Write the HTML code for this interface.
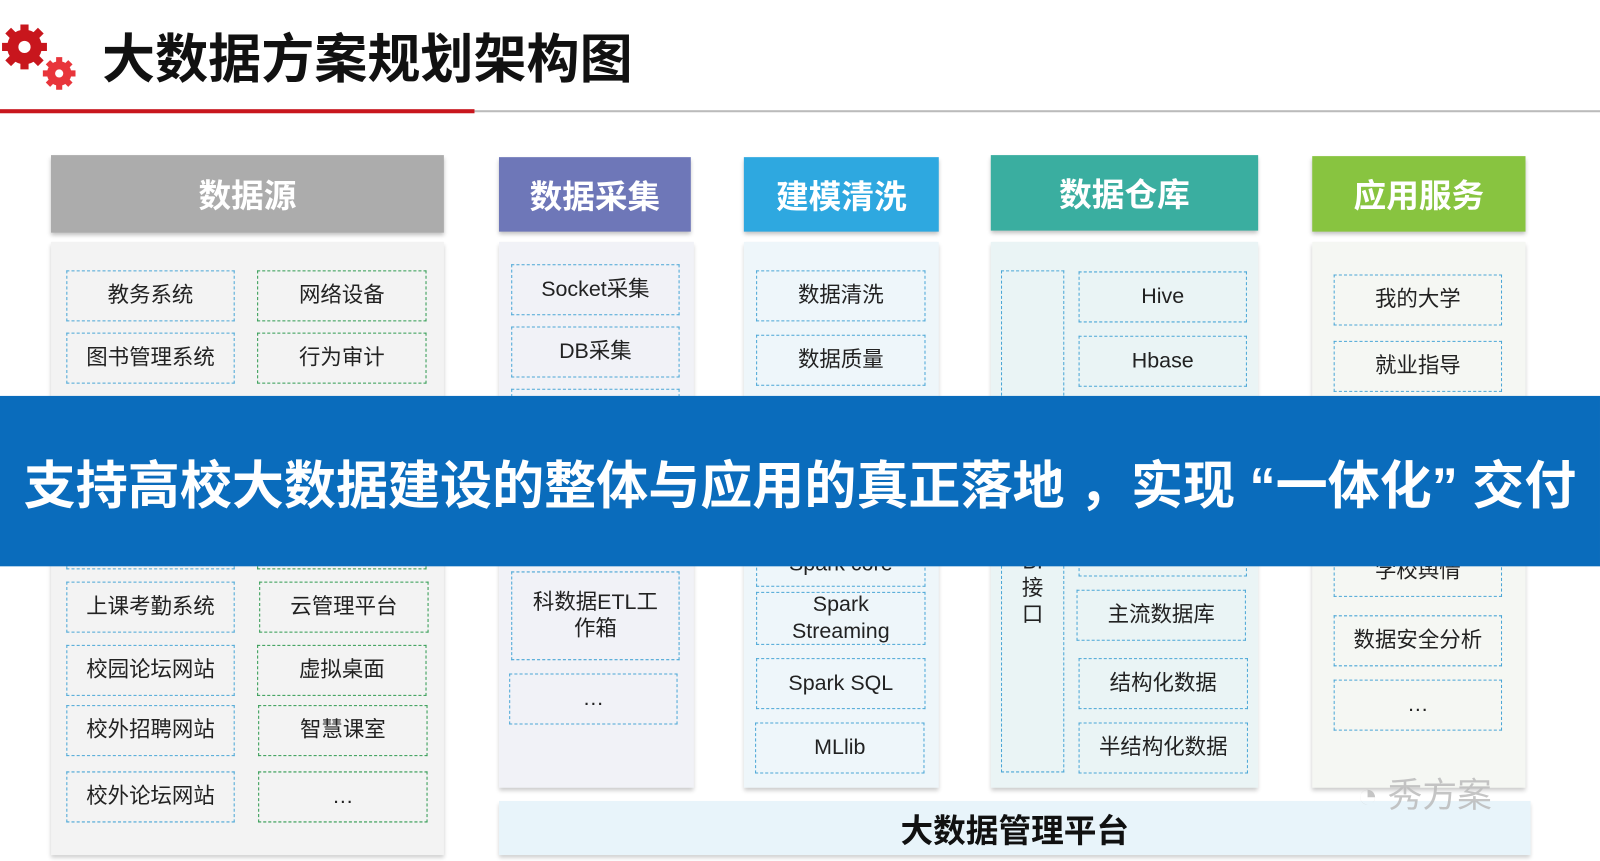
<!DOCTYPE html>
<html><head><meta charset="utf-8"><style>
*{margin:0;padding:0;box-sizing:border-box}
body{width:1600px;height:861px;background:#fff;position:relative;overflow:hidden;font-family:"Liberation Sans","Noto Sans CJK SC",sans-serif}
#w{position:absolute;left:0;top:0;width:1568px;height:844px;transform:scale(1.0204);transform-origin:0 0}
.a{position:absolute}
.h{position:absolute;color:#fff;font-weight:bold;font-size:32px;display:flex;align-items:center;justify-content:center;box-shadow:0 3px 4px rgba(0,0,0,.25)}
.bd{position:absolute;box-shadow:0 3px 4px rgba(0,0,0,.2)}
.b{position:absolute;border:1.5px dashed #4aa6d6;display:flex;align-items:center;justify-content:center;text-align:center;font-size:21px;color:#222;line-height:26px}
.g{border-color:#2f9a50}
</style></head><body><div id="w">
<svg class="a" style="left:0;top:22px" width="80" height="70" viewBox="0 0 80 70">
<g fill="#c8161d"><circle cx="24" cy="24" r="17"/>
<g stroke="#c8161d" stroke-width="8"><line x1="24" y1="2" x2="24" y2="46"/><line x1="2" y1="24" x2="46" y2="24"/><line x1="8" y1="8" x2="40" y2="40"/><line x1="40" y1="8" x2="8" y2="40"/></g>
<circle cx="24" cy="24" r="6" fill="#fff"/></g>
<g fill="#e8353b"><circle cx="58" cy="50" r="12"/>
<g stroke="#e8353b" stroke-width="6"><line x1="58" y1="34" x2="58" y2="66"/><line x1="42" y1="50" x2="74" y2="50"/><line x1="47" y1="39" x2="69" y2="61"/><line x1="69" y1="39" x2="47" y2="61"/></g>
<circle cx="58" cy="50" r="4" fill="#fff"/></g></svg>
<div class="a" style="left:100px;top:26px;font-size:52px;font-weight:bold;color:#111;line-height:66px">大数据方案规划架构图</div>
<div class="a" style="left:0;top:107px;width:465px;height:4px;background:#c8161d"></div>
<div class="a" style="left:465px;top:108px;width:1135px;height:2px;background:#bbb"></div>

<div class="h" style="left:50px;top:152px;width:385px;height:76px;background:#acacac">数据源</div>
<div class="h" style="left:489px;top:154px;width:188px;height:73px;background:#6e77b8">数据采集</div>
<div class="h" style="left:729px;top:154px;width:191px;height:73px;background:#2ea8e0">建模清洗</div>
<div class="h" style="left:971px;top:152px;width:262px;height:74px;background:#3aaea0">数据仓库</div>
<div class="h" style="left:1286px;top:153px;width:209px;height:74px;background:#88c440">应用服务</div>

<div class="bd" style="left:50px;top:237px;width:385px;height:601px;background:#f3f3f3"></div>
<div class="bd" style="left:489px;top:237px;width:191px;height:535px;background:#f1f2f7"></div>
<div class="bd" style="left:729px;top:237px;width:191px;height:535px;background:#eef6fa"></div>
<div class="bd" style="left:971px;top:237px;width:262px;height:535px;background:#eaf4f5"></div>
<div class="bd" style="left:1286px;top:237px;width:209px;height:535px;background:#f5f7f3"></div>
<div class="bd" style="left:489px;top:785px;width:1011px;height:53px;background:#e8f4fa;display:flex;align-items:center;justify-content:center;font-size:32px;font-weight:bold;color:#111;box-shadow:0 3px 4px rgba(0,0,0,.2)">大数据管理平台</div>

<div class="b" style="left:65px;top:265px;width:165px;height:50px">教务系统</div>
<div class="b" style="left:65px;top:326px;width:165px;height:50px">图书管理系统</div>
<div class="b" style="left:65px;top:570px;width:165px;height:50px">上课考勤系统</div>
<div class="b" style="left:65px;top:632px;width:165px;height:50px">校园论坛网站</div>
<div class="b" style="left:65px;top:691px;width:165px;height:50px">校外招聘网站</div>
<div class="b" style="left:65px;top:756px;width:165px;height:50px">校外论坛网站</div>
<div class="b g" style="left:252px;top:265px;width:166px;height:50px">网络设备</div>
<div class="b g" style="left:252px;top:326px;width:166px;height:50px">行为审计</div>
<div class="b g" style="left:254px;top:570px;width:166px;height:50px">云管理平台</div>
<div class="b g" style="left:252px;top:632px;width:166px;height:50px">虚拟桌面</div>
<div class="b g" style="left:253px;top:691px;width:166px;height:50px">智慧课室</div>
<div class="b g" style="left:253px;top:756px;width:166px;height:50px">…</div>
<div class="b g" style="left:252px;top:520px;width:166px;height:38px"></div>
<div class="b" style="left:65px;top:520px;width:165px;height:38px"></div>

<div class="b" style="left:501px;top:259px;width:165px;height:50px">Socket采集</div>
<div class="b" style="left:501px;top:320px;width:165px;height:50px">DB采集</div>
<div class="b" style="left:501px;top:381px;width:165px;height:40px"></div>
<div class="b" style="left:501px;top:560px;width:165px;height:87px">科数据ETL工<br>作箱</div>
<div class="b" style="left:499px;top:660px;width:165px;height:50px">…</div>

<div class="b" style="left:741px;top:265px;width:166px;height:50px">数据清洗</div>
<div class="b" style="left:741px;top:328px;width:166px;height:50px">数据质量</div>
<div class="b" style="left:741px;top:530px;width:166px;height:45px">Spark core</div>
<div class="b" style="left:741px;top:580px;width:166px;height:52px">Spark<br>Streaming</div>
<div class="b" style="left:741px;top:645px;width:166px;height:50px">Spark SQL</div>
<div class="b" style="left:740px;top:708px;width:166px;height:50px">MLlib</div>

<div class="b" style="left:981px;top:265px;width:62px;height:492px;align-items:flex-end;padding-bottom:140px;line-height:26px">BI<br>接<br>口</div>
<div class="b" style="left:1057px;top:266px;width:165px;height:50px">Hive</div>
<div class="b" style="left:1057px;top:329px;width:165px;height:50px">Hbase</div>
<div class="b" style="left:1057px;top:520px;width:165px;height:45px"></div>
<div class="b" style="left:1055px;top:578px;width:166px;height:50px">主流数据库</div>
<div class="b" style="left:1057px;top:645px;width:166px;height:50px">结构化数据</div>
<div class="b" style="left:1057px;top:708px;width:166px;height:50px">半结构化数据</div>

<div class="b" style="left:1307px;top:269px;width:165px;height:50px">我的大学</div>
<div class="b" style="left:1307px;top:334px;width:165px;height:50px">就业指导</div>
<div class="b" style="left:1307px;top:535px;width:165px;height:50px">学校舆情</div>
<div class="b" style="left:1307px;top:603px;width:165px;height:50px">数据安全分析</div>
<div class="b" style="left:1307px;top:666px;width:165px;height:50px">…</div>

<div class="a" style="left:1330px;top:752px;font-size:34px;color:#bbb;opacity:.85">◔ 秀方案</div>

<div class="a" style="left:0;top:388px;width:1568px;height:167px;background:#0a6cbc;display:flex;align-items:center;justify-content:center;color:#fff;font-weight:bold;font-size:51px;white-space:nowrap">支持高校大数据建设的整体与应用的真正落地 ，实现 “一体化” 交付</div>
</div></body></html>
